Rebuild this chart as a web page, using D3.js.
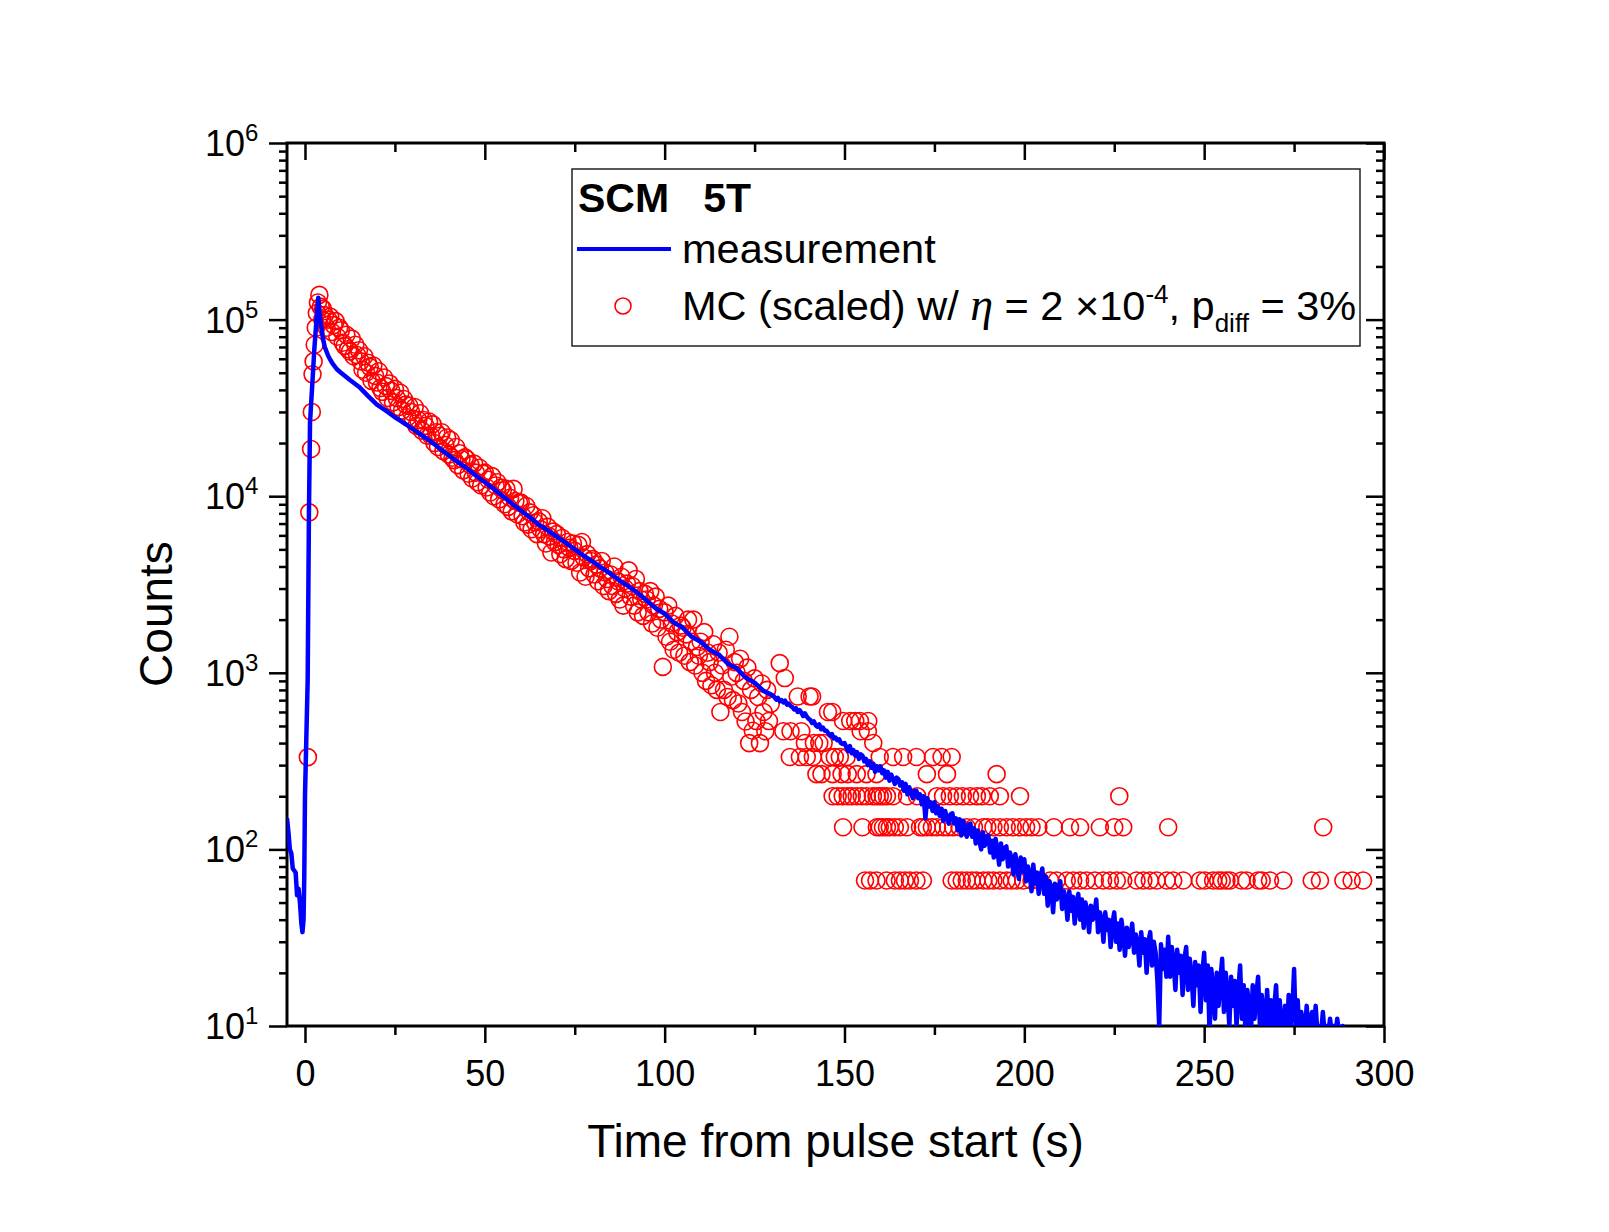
<!DOCTYPE html>
<html>
<head>
<meta charset="utf-8">
<script src="https://cdn.jsdelivr.net/npm/d3@7"></script>
<style>
  body { margin: 0; background: #fff; }
  svg { display: block; }
  text { font-family: "Liberation Sans", Arial, Helvetica, sans-serif; fill: #000; }
</style>
</head>
<body>
<div id="chart"></div>
<script>
// measurement: early part (irregular sampling around the pulse)
const measEarlyT = [-5, -4.6, -4.2, -3.8, -3.4, -3.0, -2.6, -2.2, -1.8, -1.4, -1.0, -0.7, -0.4, -0.2, 0, 0.4, 0.75, 1.1, 1.4, 2.0, 2.6, 3.2, 3.7,
  4.0, 4.4, 4.9, 5.5, 6.5, 7.5, 8.8, 10, 12.5, 15, 17.5, 20, 22.5, 25, 27.5, 30, 32.5, 35, 37.5, 40, 42.5, 45, 47.5, 50,
  52.5, 55, 57.5, 60, 62.5, 65, 67.5, 70, 72.5, 75, 77.5, 80, 82.5, 85, 87.5, 90, 92.5, 95, 97.5, 100, 102.5, 105, 107.5,
  110, 112.5, 115, 117.5, 120, 122.5, 125, 127.5];
const measEarlyC = [150, 125, 100, 95, 78, 76, 74, 55, 60, 50, 38, 34, 40, 70, 200, 450, 913, 8070, 26100, 42000, 68000, 100000, 133000,
  112000, 95000, 80000, 70000, 62000, 57000, 52500, 50000, 45500, 41700, 37000, 33000, 30500, 28000, 26000, 24000, 22100, 20400, 18600, 17000, 15600, 14400, 13100, 12000,
  11000, 10000, 9100, 8300, 7600, 6900, 6400, 5900, 5450, 5000, 4600, 4260, 3930, 3630, 3330, 3090, 2830, 2570, 2320, 2160, 1930, 1800, 1600,
  1500, 1350, 1270, 1130, 1060, 940, 880, 790];

// measurement: tail, two values per second from t = 130 s
const measTailStart = 130;
const measTailStep = 0.5;
const measTailC = [
  745, 730, 705, 720, 690, 700, 680, 695, 660, 670,
  650, 640, 620, 630, 600, 615, 595, 570, 590, 565,
  550, 540, 520, 530, 505, 495, 510, 480, 490, 470,
  470, 455, 440, 450, 425, 430, 415, 420, 400, 395,
  400, 380, 360, 385, 350, 365, 340, 355, 325, 345,
  340, 315, 325, 300, 315, 290, 305, 275, 295, 280,
  295, 270, 280, 255, 275, 245, 265, 250, 235, 255,
  250, 230, 240, 215, 235, 205, 225, 210, 195, 215,
  215, 195, 205, 180, 200, 150, 195, 175, 185, 165,
  185, 160, 175, 155, 170, 145, 165, 150, 140, 158,
  160, 140, 150, 128, 148, 120, 145, 130, 118, 138,
  140, 118, 132, 108, 128, 112, 100, 125, 105, 118,
  120, 96, 112, 90, 115, 100, 82, 108, 88, 102,
  104, 80, 96, 88, 72, 94, 80, 68, 90, 75,
  88, 66, 80, 72, 58, 82, 64, 74, 56, 70,
  78, 56, 70, 48, 66, 60, 44, 64, 52, 60,
  66, 46, 58, 52, 40, 58, 45, 54, 38, 50,
  56, 40, 52, 36, 50, 44, 34, 48, 40, 44,
  52, 34, 44, 40, 30, 44, 35, 40, 28, 38,
  44, 30, 38, 27, 40, 33, 25, 36, 28, 32,
  38, 26, 33, 29, 22, 34, 26, 31, 20, 30,
  34, 22, 30, 26, 18, 10, 29, 21, 27, 19,
  32, 19, 28, 23, 16, 27, 20, 25, 15, 24,
  28, 16, 24, 19, 13, 23, 17, 22, 12, 20,
  26, 14, 22, 9, 21, 16, 11, 20, 13, 18,
  24, 12, 20, 15, 10, 19, 13, 18, 10, 16,
  22, 11, 17, 9, 16, 13, 9, 17, 11, 15,
  19, 10, 15, 12, 9, 16, 10, 14, 9, 13,
  17, 9, 14, 10, 9, 13, 9, 15, 10, 12,
  21, 9, 14, 9, 12, 10, 9, 13, 9, 11,
  12, 9, 13, 9, 10, 9, 12, 9, 10, 9,
  11, 9, 10, 9, 11, 9, 9, 10, 9, 9];

// MC (scaled): rise and peak
const mcPeakT = [0.8, 1.2, 1.7, 1.9, 2.1, 2.4, 2.7, 3.0, 3.3, 3.6, 4.0, 4.4, 4.8];
const mcPeakC = [333, 8100, 18500, 30000, 49000, 58000, 72000, 90000, 109000, 125000, 138000, 118000, 100000];

// MC (scaled): decay band, two values per second from t = 5 s
const mcBandStart = 5;
const mcBandStep = 0.5;
const mcBandC = [
  115000, 106000, 90000, 100000, 104000, 85000, 93000, 98000, 80000, 90000,
  87000, 74000, 71000, 82000, 68000, 66000, 78000, 62000, 72000, 63000,
  67000, 58000, 52000, 62000, 50000, 57000, 54000, 45000, 55000, 48000,
  44000, 51000, 41000, 39000, 47000, 42000, 36000, 43500, 39500, 34000,
  40500, 36000, 32000, 38500, 30500, 35500, 33000, 28000, 32500, 30000,
  27500, 32000, 25000, 27000, 29500, 23500, 27000, 25000, 22000, 26500,
  22000, 25500, 20000, 23000, 19000, 22000, 23000, 18000, 19500, 21500,
  17200, 20800, 16500, 16000, 19000, 15000, 17500, 16200, 14000, 16600,
  16200, 13400, 15000, 12600, 15300, 13600, 12000, 14500, 11500, 13400,
  13600, 11200, 12400, 10500, 13000, 10000, 11500, 12000, 9600, 11200,
  10800, 9000, 11000, 8700, 9800, 8200, 11000, 9400, 7900, 9200,
  9200, 7700, 7100, 8800, 6900, 8100, 6500, 7800, 7100, 6100,
  7200, 6500, 7500, 6100, 5400, 6700, 5900, 4800, 6300, 5500,
  6100, 5300, 4700, 5800, 5000, 4400, 5500, 5100, 4300, 5400,
  4900, 4200, 5300, 3700, 5500, 4500, 3500, 4700, 3900, 4300,
  4400, 3600, 4100, 3300, 3900, 4300, 3100, 3700, 3400, 2900,
  3600, 3100, 4000, 2800, 3300, 2600, 3500, 2400, 3000, 3200,
  3800, 2700, 3100, 2400, 3400, 2200, 2900, 2600, 2100, 2800,
  2600, 2200, 2900, 1900, 2400, 2700, 1800, 2300, 2000, 1080,
  2200, 1600, 2400, 1500, 1900, 1350, 2100, 1700, 1300, 1850,
  1800, 1250, 1650, 2000, 1150, 1500, 2000, 1100, 1400, 1250,
  1500, 1000, 1700, 900, 1300, 1150, 850, 1450, 1000, 800,
  1300, 600, 1100, 800, 1350, 730, 1600, 950, 700, 1150,
  1000, 670, 1200, 600, 900, 530, 1070, 400, 800, 470,
  930, 533, 730, 400, 870, 600, 467, 800, 533, 667];

// MC (scaled) tail: quantized at multiples of one scaled MC event
const mcScale = 66.7;
const mcRow17 = [132];
const mcRow14 = [133.4];
const mcRow11 = [137, 140.3, 141];
const mcRow9 = [145.4, 146.6];
const mcRow8 = [149.6, 151.6, 153, 154.3, 156.6];
const mcRow7 = [133, 135, 138, 154.5, 156.5];
const mcRow6 = [139, 141.5, 143, 144.2, 158];
const mcRow5 = [134.8, 137.6, 139.5, 141.2, 145.9, 147.3, 148.7, 150.6, 159.8, 163.5, 166.3, 170, 174.6, 177, 179.8];
const mcRow4 = [142.2, 143.6, 146.7, 149.2, 150.9, 153.4, 156.1, 158.9, 172.9, 178.5, 192.3];
const mcRow3 = [146.7, 148.1, 149.5, 150.9, 152, 153.4, 154.8, 156.2, 157.9, 158.9, 159.8, 160.7, 161.8, 163.5, 167.4, 170.2,
  175.7, 177.4, 179.3, 181.2, 182.9, 184.9, 186.8, 188.2, 190.4, 193.2, 198.8, 226.4];
const mcRow2 = [149.6, 155, 159, 159.8, 160.7, 161.8, 162.6, 164, 165.4, 167.4, 171, 171.8, 172.9, 174.3, 175.7, 177.5, 178.8,
  180.2, 182, 184, 186, 188.6, 189.7, 191.4, 193.2, 195.1, 196.8, 198.8, 200.5, 202, 203.9, 208.2, 212.7, 215.5, 221, 225,
  227.5, 240, 283.1];
const mcRow1 = [155.7, 157.1, 158.9, 161.7, 164, 165.4, 166.8, 168.2, 170, 171.8, 179.8, 181.2, 182.6, 184, 185.4, 186.7,
  188.6, 190, 191.4, 193.2, 195.1, 196.5, 197.9, 199.7, 202, 204.3, 207.2, 209, 211.8, 213.6, 215.5, 217.3, 219.6, 221.9,
  223.8, 225.7, 227.5, 231.2, 233.1, 234.9, 236.8, 239.6, 241.4, 244.2, 248.8, 250.2, 252.5, 253.9, 254.9, 256.2, 257.2,
  260.4, 261.8, 265, 266, 268.3, 272, 279.9, 282.2, 288.7, 291, 294.2];

const xMajor = [0, 50, 100, 150, 200, 250, 300];
const xMinor = [25, 75, 125, 175, 225, 275];
const yDecades = [1, 2, 3, 4, 5, 6];

// ---- build series
const measurement = measEarlyT.map((t, i) => ({ t, c: measEarlyC[i] }))
  .concat(measTailC.map((c, i) => ({ t: measTailStart + i * measTailStep, c })));

const mcRows = [[17, mcRow17], [14, mcRow14], [11, mcRow11], [9, mcRow9], [8, mcRow8], [7, mcRow7],
  [6, mcRow6], [5, mcRow5], [4, mcRow4], [3, mcRow3], [2, mcRow2], [1, mcRow1]];
const mc = mcPeakT.map((t, i) => ({ t, c: mcPeakC[i] }))
  .concat(mcBandC.map((c, i) => ({ t: mcBandStart + i * mcBandStep, c })))
  .concat(mcRows.flatMap(([n, ts]) => ts.map(t => ({ t, c: n * mcScale }))));

// ---- layout
const W = 1609, H = 1232;
const plot = { left: 287, right: 1384, top: 143, bottom: 1026 };

const svg = d3.select('#chart').append('svg')
  .attr('width', W).attr('height', H);

const x = d3.scaleLinear().domain([-5, 300]).range([plot.left, plot.right]);
const y = d3.scaleLog().domain([10, 1e6]).range([plot.bottom, plot.top]);

svg.append('clipPath').attr('id', 'clip')
  .append('rect')
  .attr('x', plot.left).attr('y', plot.top)
  .attr('width', plot.right - plot.left).attr('height', plot.bottom - plot.top);

const yMinor = [];
yDecades.slice(0, -1).forEach(k => { for (let m = 2; m <= 9; m++) yMinor.push(m * Math.pow(10, k)); });

// axes: bottom/left ticks outward, top/right ticks inward
function styleAxis(g) {
  g.select('.domain').remove();
  g.selectAll('line').attr('stroke', '#000').attr('stroke-width', 2.5);
}
svg.append('g').attr('transform', `translate(0,${plot.bottom})`)
  .call(d3.axisBottom(x).tickValues(xMajor).tickSize(17).tickSizeOuter(0).tickPadding(17).tickFormat(d3.format('d')))
  .call(styleAxis)
  .selectAll('text').attr('font-size', 36).attr('font-family', '"Liberation Sans", Arial, sans-serif').attr('fill', '#000');
svg.append('g').attr('transform', `translate(0,${plot.bottom})`)
  .call(d3.axisBottom(x).tickValues(xMinor).tickSize(9).tickFormat(''))
  .call(styleAxis);
svg.append('g').attr('transform', `translate(0,${plot.top})`)
  .call(d3.axisTop(x).tickValues(xMajor).tickSize(-17).tickFormat(''))
  .call(styleAxis);
svg.append('g').attr('transform', `translate(0,${plot.top})`)
  .call(d3.axisTop(x).tickValues(xMinor).tickSize(-9).tickFormat(''))
  .call(styleAxis);

const yMajorVals = yDecades.map(k => Math.pow(10, k));
svg.append('g').attr('transform', `translate(${plot.left},0)`)
  .call(d3.axisLeft(y).tickValues(yMajorVals).tickSize(18).tickFormat(''))
  .call(styleAxis);
svg.append('g').attr('transform', `translate(${plot.left},0)`)
  .call(d3.axisLeft(y).tickValues(yMinor).tickSize(8).tickFormat(''))
  .call(styleAxis);
svg.append('g').attr('transform', `translate(${plot.right},0)`)
  .call(d3.axisRight(y).tickValues(yMajorVals).tickSize(-18).tickFormat(''))
  .call(styleAxis);
svg.append('g').attr('transform', `translate(${plot.right},0)`)
  .call(d3.axisRight(y).tickValues(yMinor).tickSize(-8).tickFormat(''))
  .call(styleAxis);

// y tick labels 10^k
const yLab = svg.append('g');
yDecades.forEach(k => {
  const yy = y(Math.pow(10, k));
  yLab.append('text').attr('x', 245).attr('y', yy + 13)
    .attr('text-anchor', 'end').attr('font-size', 36).text('10');
  yLab.append('text').attr('x', 245).attr('y', yy - 2)
    .attr('font-size', 24).text(k);
});

// frame
svg.append('rect')
  .attr('x', plot.left).attr('y', plot.top)
  .attr('width', plot.right - plot.left).attr('height', plot.bottom - plot.top)
  .attr('fill', 'none').attr('stroke', '#000').attr('stroke-width', 3);

// data
const dataG = svg.append('g').attr('clip-path', 'url(#clip)');

dataG.append('g').selectAll('circle')
  .data(mc)
  .enter()
  .append('circle')
  .attr('cx', d => x(d.t))
  .attr('cy', d => y(d.c))
  .attr('r', 8.5)
  .attr('fill', 'none')
  .attr('stroke', '#ff0000')
  .attr('stroke-width', 1.6);

const line = d3.line().x(d => x(d.t)).y(d => y(Math.max(d.c, 5)));
dataG.append('path')
  .datum(measurement)
  .attr('d', line)
  .attr('fill', 'none')
  .attr('stroke', '#0000ff')
  .attr('stroke-width', 4.5)
  .attr('stroke-linejoin', 'round');

// axis titles
svg.append('text')
  .attr('x', (plot.left + plot.right) / 2).attr('y', 1157)
  .attr('text-anchor', 'middle').attr('font-size', 46)
  .text('Time from pulse start (s)');
svg.append('text')
  .attr('transform', 'translate(172,614) rotate(-90)')
  .attr('text-anchor', 'middle').attr('font-size', 46)
  .text('Counts');

// legend
const lg = svg.append('g');
lg.append('rect')
  .attr('x', 572).attr('y', 169).attr('width', 788).attr('height', 177)
  .attr('fill', '#fff').attr('stroke', '#222').attr('stroke-width', 1.5);
lg.append('text')
  .attr('x', 578).attr('y', 212)
  .attr('font-size', 41).attr('font-weight', 'bold')
  .style('white-space', 'pre')
  .text('SCM   5T');
lg.append('line')
  .attr('x1', 577).attr('x2', 671).attr('y1', 249).attr('y2', 249)
  .attr('stroke', '#0000ff').attr('stroke-width', 4);
lg.append('text')
  .attr('x', 682).attr('y', 263).attr('font-size', 41.5)
  .text('measurement');
lg.append('circle')
  .attr('cx', 623).attr('cy', 306).attr('r', 8)
  .attr('fill', 'none').attr('stroke', '#ff0000').attr('stroke-width', 1.6);
const mcText = lg.append('text')
  .attr('x', 682).attr('y', 320).attr('font-size', 41.5)
  .style('white-space', 'pre');
mcText.append('tspan').text('MC (scaled) w/ ');
mcText.append('tspan').attr('font-family', '"Liberation Serif", "DejaVu Serif", serif')
  .attr('font-style', 'italic').attr('font-size', 46).text('η');
mcText.append('tspan').text(' = 2 ×10');
mcText.append('tspan').attr('font-size', 26).attr('dy', -17).text('-4');
mcText.append('tspan').attr('dy', 17).text(', p');
mcText.append('tspan').attr('font-size', 26).attr('dy', 12).text('diff');
mcText.append('tspan').attr('dy', -12).text(' = 3%');
</script>
</body>
</html>
